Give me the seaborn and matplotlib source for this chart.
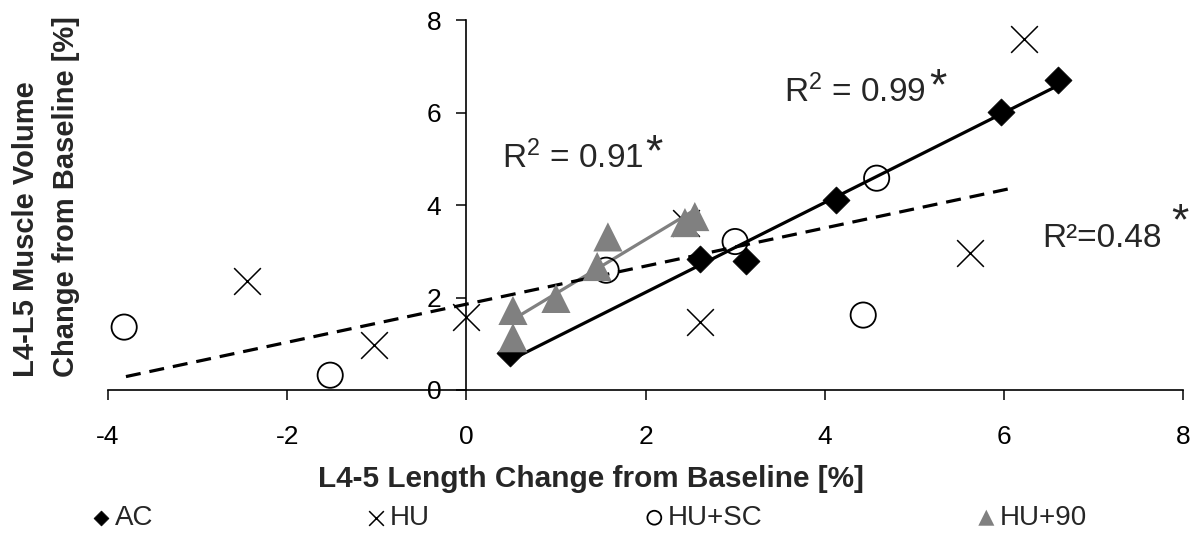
import matplotlib
matplotlib.use("Agg")
import matplotlib.pyplot as plt
import seaborn as sns

# Change from baseline [%]: x = L4-5 length, y = L4-L5 muscle volume
ac_x = [0.49, 2.61, 3.12, 4.13, 5.97, 6.60]
ac_y = [0.81, 2.83, 2.80, 4.11, 6.02, 6.70]
hu_x = [-2.45, -1.03, 0.00, 2.45, 2.61, 5.62, 6.23]
hu_y = [2.36, 0.97, 1.58, 3.62, 1.48, 2.96, 7.58]
husc_x = [-3.82, -1.52, 1.56, 3.00, 4.43, 4.58]
husc_y = [1.36, 0.32, 2.59, 3.21, 1.62, 4.58]
hu90_x = [0.52, 0.52, 1.00, 1.46, 1.58, 2.44, 2.55]
hu90_y = [1.13, 1.72, 1.98, 2.67, 3.31, 3.62, 3.75]

# linear trend for the pooled HU groups (end points)
trend_x = [-3.80, 6.08]
trend_y = [0.29, 4.36]

groups = ["AC", "HU", "HU+SC", "HU+90"]
x_ticks = [-4, -2, 0, 2, 4, 6, 8]
y_ticks = [0, 2, 4, 6, 8]

GRAY = "#808080"

sns.set_theme(style="ticks")
plt.rcParams["font.family"] = ["Liberation Sans", "DejaVu Sans"]
plt.rcParams["mathtext.fontset"] = "custom"
plt.rcParams["mathtext.rm"] = "Liberation Sans"
plt.rcParams["mathtext.default"] = "regular"
plt.rcParams["axes.unicode_minus"] = False

fig = plt.figure(figsize=(12.03, 5.38), dpi=100)
fig.patch.set_facecolor("white")
ax = fig.add_axes([0.0898, 0.2751, 0.8936, 0.6877])
ax.set_facecolor("white")

# trend lines
sns.regplot(x=ac_x, y=ac_y, order=1, ci=None, scatter=False, truncate=True,
            ax=ax, line_kws=dict(color="black", lw=2.3, zorder=2))
sns.regplot(x=hu90_x, y=hu90_y, order=1, ci=None, scatter=False, truncate=True,
            ax=ax, line_kws=dict(color=GRAY, lw=2.3, zorder=2))
sns.lineplot(x=trend_x, y=trend_y, ax=ax, color="black", lw=2.3,
             linestyle=(0, (4.7, 2.8)), zorder=2)

# group markers
sns.scatterplot(x=ac_x, y=ac_y, marker="D", s=190, color="black",
                edgecolor="black", linewidth=0.5, ax=ax, label=groups[0], zorder=3)
sns.scatterplot(x=hu_x, y=hu_y, marker="x", s=370, color="black",
                linewidth=1.1, ax=ax, label=groups[1], zorder=3)
sns.scatterplot(x=husc_x, y=husc_y, marker="o", s=330, color="black",
                linewidth=1.3, ax=ax, label=groups[2], zorder=3)
ax.collections[-1].set_facecolor("none")
ax.collections[-1].set_edgecolor("black")
sns.scatterplot(x=hu90_x, y=hu90_y, marker="^", s=440, color=GRAY,
                edgecolor="none", ax=ax, label=groups[3], zorder=4)

if ax.get_legend() is not None:
    ax.get_legend().remove()

# axes
ax.set_xlim(-4, 8)
ax.set_ylim(0, 8)
ax.set_xticks(x_ticks)
ax.set_yticks(y_ticks)
ax.set_xlabel("")
ax.set_ylabel("")
ax.spines["left"].set_position(("data", 0))
ax.spines["top"].set_visible(False)
ax.spines["right"].set_visible(False)
for sp in ("left", "bottom"):
    ax.spines[sp].set_color("black")
    ax.spines[sp].set_linewidth(1.2)
ax.tick_params(axis="x", direction="out", length=7, width=1.1, pad=18,
               labelsize=19, colors="black")
ax.tick_params(axis="y", direction="out", length=7, width=1.1, pad=11,
               labelsize=19, colors="black")

# R² annotations
ax.text(0.40, 4.80, "R$^2$ = 0.91", fontsize=24, ha="left", va="baseline")
ax.text(2.09, 4.86, "*", fontsize=32, ha="center", va="baseline")
ax.text(3.55, 6.23, "R$^2$ = 0.99", fontsize=24, ha="left", va="baseline")
ax.text(5.26, 6.29, "*", fontsize=32, ha="center", va="baseline")
ax.text(6.43, 3.10, "R\u00b2=0.48", fontsize=24, ha="left", va="baseline")
ax.text(7.96, 3.37, "*", fontsize=32, ha="center", va="baseline")

# axis titles
fig.text(318 / 1203, 1 - 487 / 538, "L4-5 Length Change from Baseline [%]",
         fontsize=21.4, fontweight="bold", ha="left", va="baseline")
fig.text(46 / 1203, 1 - 377 / 538,
         "L4-L5 Muscle Volume\nChange from Baseline [%]",
         fontsize=21, fontweight="bold", rotation=90, ha="center",
         va="bottom", multialignment="left", linespacing=1.5)

# legend entries spread along the bottom
handles, labels = ax.get_legend_handles_labels()
legend_left = [93, 368, 646, 978]
for h, lab, px in zip(handles, labels, legend_left):
    fig.legend([h], [lab], loc="center left",
               bbox_to_anchor=(px / 1203, 1 - 518 / 538),
               frameon=False, fontsize=20, markerscale=0.55,
               handlelength=0.6, handletextpad=0.2,
               borderpad=0, borderaxespad=0)

fig.savefig("out.png", dpi=100, facecolor="white")
